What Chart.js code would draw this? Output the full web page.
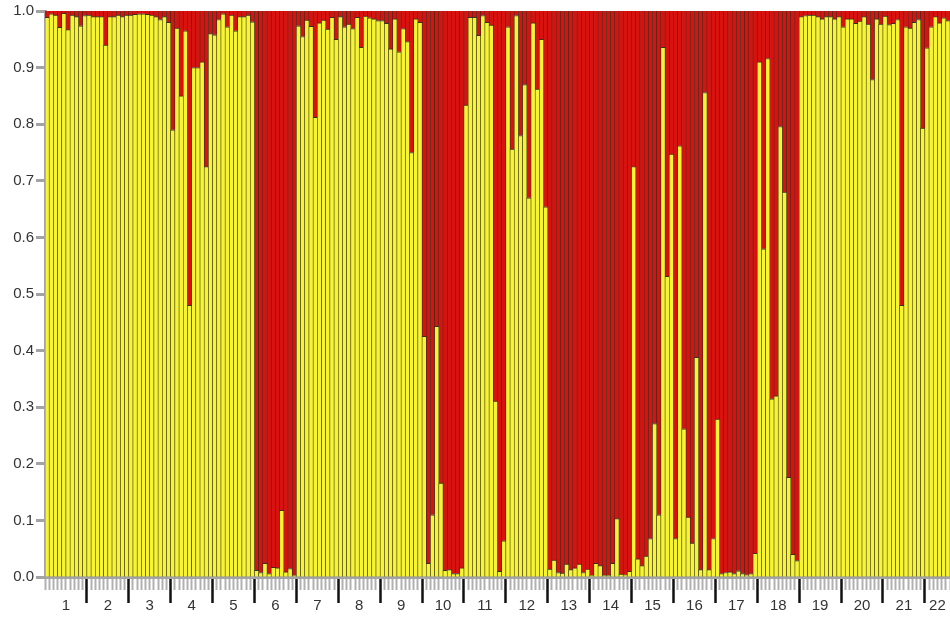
<!DOCTYPE html>
<html>
<head>
<meta charset="utf-8">
<script src="https://cdn.jsdelivr.net/npm/chart.js@4.4.1/dist/chart.umd.min.js"></script>
<style>
  html, body { margin: 0; padding: 0; background: #fff; }
  #wrap { width: 950px; height: 617px; }
</style>
</head>
<body>
<div id="wrap"><canvas id="structure" width="950" height="617"></canvas></div>
<script>
// population labels and how many individuals each one has on the plot
var groupLabels = ['1','2','3','4','5','6','7','8','9','10','11','12','13','14','15','16','17','18','19','20','21','22'];
var groupSizes  = [10,10,10,10,10,10,10,10,10,10,10,10,10,10,10,10,10,10,10,10,10,6];

// membership in the yellow cluster, one value per individual
var yellowShare = [
  0.989,0.995,0.993,0.971,0.996,0.967,0.993,0.990,0.974,0.992,
  0.993,0.990,0.990,0.990,0.940,0.990,0.990,0.993,0.990,0.993,
  0.993,0.994,0.995,0.995,0.994,0.993,0.990,0.985,0.990,0.980,
  0.790,0.970,0.850,0.965,0.480,0.900,0.900,0.910,0.725,0.960,
  0.958,0.985,0.995,0.972,0.993,0.965,0.990,0.990,0.993,0.981,
  0.012,0.008,0.024,0.006,0.017,0.016,0.118,0.009,0.015,0.003,
  0.974,0.955,0.984,0.973,0.812,0.979,0.984,0.968,0.989,0.950,
  0.990,0.972,0.977,0.969,0.989,0.936,0.991,0.988,0.986,0.983,
  0.983,0.978,0.933,0.986,0.928,0.969,0.946,0.750,0.986,0.980,
  0.425,0.024,0.110,0.443,0.166,0.012,0.013,0.006,0.006,0.016,
  0.834,0.989,0.989,0.957,0.992,0.980,0.975,0.311,0.010,0.064,
  0.972,0.756,0.992,0.780,0.870,0.670,0.979,0.862,0.950,0.654,
  0.014,0.030,0.008,0.007,0.023,0.013,0.016,0.023,0.008,0.014,
  0.003,0.024,0.020,0.003,0.003,0.024,0.103,0.005,0.004,0.010,
  0.725,0.032,0.020,0.037,0.068,0.271,0.110,0.936,0.531,0.747,
  0.068,0.762,0.262,0.106,0.060,0.388,0.013,0.856,0.013,0.068,
  0.279,0.006,0.008,0.009,0.006,0.011,0.006,0.004,0.006,0.042,
  0.910,0.580,0.916,0.315,0.320,0.796,0.680,0.176,0.040,0.029,
  0.990,0.992,0.993,0.993,0.990,0.986,0.990,0.990,0.986,0.990,
  0.972,0.986,0.986,0.978,0.982,0.990,0.977,0.879,0.986,0.977,
  0.991,0.976,0.978,0.985,0.480,0.972,0.970,0.980,0.985,0.793,
  0.935,0.972,0.990,0.979,0.988,0.983
];

var yTicks = [0,0.1,0.2,0.3,0.4,0.5,0.6,0.7,0.8,0.9,1.0];

var nInd = yellowShare.length;
var yellowPts = yellowShare.map(function(v, i) { return {x: i + 0.5, y: v}; });
var redPts = yellowShare.map(function(v, i) { return {x: i + 0.5, y: 1 - v}; });

var edge = 'rgba(45,40,25,0.95)';

function isBoundary(v) { return v % 10 === 0 && v > 0 && v < nInd; }

new Chart(document.getElementById('structure').getContext('2d'), {
  type: 'bar',
  data: {
    datasets: [{
      label: 'cluster 1',
      data: yellowPts,
      backgroundColor: '#F6F433',
      borderColor: edge,
      borderWidth: {top: 1, left: 0.6, right: 0.6, bottom: 0},
      borderSkipped: false,
      barPercentage: 1,
      categoryPercentage: 1
    }, {
      label: 'cluster 2',
      data: redPts,
      backgroundColor: '#D8120E',
      borderColor: edge,
      borderWidth: {top: 0, left: 0.6, right: 0.6, bottom: 0},
      borderSkipped: false,
      barPercentage: 1,
      categoryPercentage: 1
    }]
  },
  options: {
    responsive: false,
    animation: false,
    devicePixelRatio: 1,
    layout: { padding: {top: 8, right: 0, bottom: 0, left: 0} },
    plugins: { legend: {display: false}, tooltip: {enabled: false} },
    scales: {
      x: {
        type: 'linear',
        position: 'bottom',
        weight: 1,
        stacked: true,
        min: 0,
        max: nInd,
        offset: false,
        afterBuildTicks: function(scale) {
          var t = [], start = 0;
          groupSizes.forEach(function(n, g) {
            if (g > 0) t.push({value: start});
            t.push({value: start + n / 2, lbl: groupLabels[g]});
            start += n;
          });
          scale.ticks = t;
        },
        afterFit: function(scale) { scale.height = 27; },
        border: { display: false },
        grid: {
          offset: false,
          drawOnChartArea: false,
          tickLength: 13,
          tickWidth: 2.5,
          tickColor: function(ctx) { return ctx.tick && ctx.tick.lbl ? 'rgba(0,0,0,0)' : '#111'; }
        },
        ticks: {
          autoSkip: false,
          maxRotation: 0,
          padding: -6,
          color: '#333',
          font: { family: 'Arial, "Liberation Sans"', size: 15 },
          callback: function(value, index, ticks) { return ticks[index].lbl || ''; }
        }
      },
      x2: {
        type: 'linear',
        position: 'bottom',
        weight: 0,
        min: 0,
        max: nInd,
        offset: false,
        afterBuildTicks: function(scale) {
          var t = [];
          for (var i = 0; i <= nInd; i++) t.push({value: i});
          scale.ticks = t;
        },
        afterFit: function(scale) { scale.height = 13; },
        border: { color: '#a3a3a3', width: 3 },
        grid: {
          offset: false,
          drawOnChartArea: false,
          tickLength: 13,
          tickWidth: function(ctx) { return ctx.tick && isBoundary(ctx.tick.value) ? 2.5 : 2; },
          tickColor: function(ctx) { return ctx.tick && isBoundary(ctx.tick.value) ? '#111' : '#b0b0b0'; }
        },
        ticks: { display: false, autoSkip: false }
      },
      y: {
        stacked: true,
        min: 0,
        max: 1,
        afterBuildTicks: function(scale) {
          scale.ticks = yTicks.map(function(v) { return {value: v}; });
        },
        afterFit: function(scale) { scale.width = 45; },
        border: { color: '#a3a3a3', width: 3 },
        grid: {
          drawOnChartArea: false,
          tickLength: 9,
          tickWidth: 3,
          tickColor: '#a3a3a3'
        },
        ticks: {
          padding: 2,
          color: '#333',
          font: { family: 'Arial, "Liberation Sans"', size: 15 },
          callback: function(v) { return v.toFixed(1); }
        }
      }
    }
  }
});
</script>
</body>
</html>
